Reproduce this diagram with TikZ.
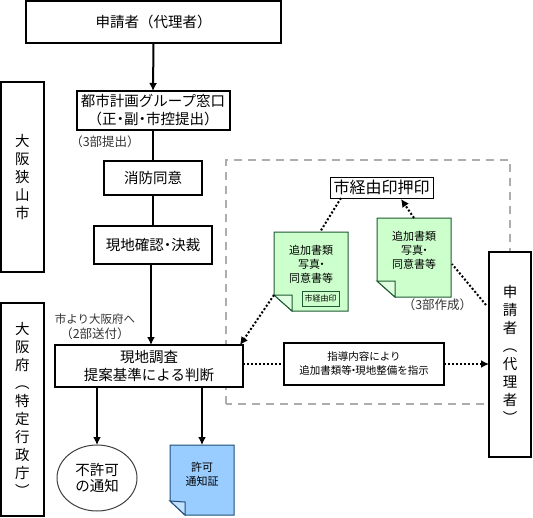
\documentclass[tikz,border=0pt]{standalone}
\usepackage{fontspec}
\setmainfont{Noto Sans CJK JP}
\usetikzlibrary{arrows.meta,calc,shapes.geometric}
\newcommand{\nk}{\kern-3.5pt・\kern-3.5pt}
\newcommand{\fsz}[2]{\fontsize{#1}{#2}\selectfont}
\definecolor{sheetgreen}{HTML}{CCFFCC}
\definecolor{sheetblue}{HTML}{99CCFF}
\definecolor{edgegreen}{HTML}{1E5A32}
\definecolor{edgeblue}{HTML}{1F4E79}
\tikzset{
  flowbox/.style={draw=black,fill=white,line width=2pt,inner sep=0pt,outer sep=0pt,align=center,font=\fsz{14.5}{18}},
  vbox/.style={flowbox,text width=20pt},
  plainlabel/.style={inner sep=0pt,align=center,font=\fsz{11.5}{15},text=black!80},
  parenlabel/.style={plainlabel,font=\fsz{12.5}{15}},
  sheet/.style={inner sep=0pt,outer sep=0pt,align=center,font=\fsz{11}{14}},
  flow/.style={line width=2pt,-{Latex[length=8pt,width=8pt]}},
  link/.style={line width=2pt},
  dots/.style={line width=2pt,dash pattern=on 2pt off 2pt,black},
  dotsarrow/.style={dots,-{Latex[length=8pt,width=8pt]}},
}
\begin{document}
\begin{tikzpicture}[x=1pt,y=-1pt]
\useasboundingbox (0,0) rectangle (533,517);
\fill[white] (0,0) rectangle (533,517);
% dashed frame
\draw[black!32,line width=1.5pt,dash pattern=on 8pt off 6pt] (226,404) -- (226,160) -- (510,160) -- (510,404) -- cycle;

% main column
\node[flowbox,minimum width=255pt,minimum height=42pt] (top) at (153.5,22) {申請者（代理者）};
\node[vbox,minimum width=43pt,minimum height=190pt] (city) at (22.5,177) {大\\阪\\狭\\山\\市};
\node[flowbox,minimum width=153pt,minimum height=39pt] (window) at (153,110.5) {都市計画グループ窓口\\（正\nk 副\nk 市控提出）};
\node[flowbox,minimum width=98pt,minimum height=34pt] (fire) at (153,178) {消防同意};
\node[flowbox,minimum width=118pt,minimum height=38pt] (check) at (153,245) {現地確認\nk 決裁};
\node[vbox,minimum width=43pt,minimum height=213pt] (pref) at (22.5,409.5) {大\\阪\\府\\︵\\特\\定\\行\\政\\庁\\︶};
\node[flowbox,minimum width=188pt,minimum height=42pt] (survey) at (149,366) {現地調査\\提案基準による判断};
\node[draw=black!75,fill=white,line width=1pt,ellipse,inner sep=0pt,outer sep=0pt,minimum width=80pt,minimum height=66pt,align=center,font=\fsz{14.5}{16}] (deny) at (97,478) {不許可\\の通知};

% blue sheet
\node[sheet,minimum width=64pt,minimum height=70pt] (permit) at (202,480) {};
\draw[fill=sheetblue,draw=edgeblue,line width=1pt] (permit.north west) -- (permit.north east) -- (permit.south east) -- (185,515) -- (170,501) -- cycle;
\draw[fill=sheetblue!60,draw=edgeblue,line width=1pt] (170,501) -- (185,502) -- (185,515) -- cycle;
\node[sheet] (permittext) at (202,474.5) {許可\\通知証};

% green sheets
\node[sheet,minimum width=74pt,minimum height=79pt] (sheetA) at (311,271.5) {};
\draw[fill=sheetgreen,draw=edgegreen,line width=1pt] (sheetA.north west) -- (sheetA.north east) -- (sheetA.south east) -- (292,311) -- (274,295) -- cycle;
\draw[fill=sheetgreen!60,draw=edgegreen,line width=1pt] (274,295) -- (292,295) -- (292,311) -- cycle;
\node[sheet] (textA) at (311,264.5) {追加書類\\写真\nk \\同意書等};
\node[draw=edgegreen,line width=1pt,inner sep=0pt,outer sep=0pt,minimum width=37pt,minimum height=15pt,font=\fsz{8}{9}] (sealsmall) at (320.5,298.5) {市経由印};

\node[sheet,minimum width=74pt,minimum height=79pt] (sheetB) at (414,257.5) {};
\draw[fill=sheetgreen,draw=edgegreen,line width=1pt] (sheetB.north west) -- (sheetB.north east) -- (sheetB.south east) -- (395,297) -- (377,281) -- cycle;
\draw[fill=sheetgreen!60,draw=edgegreen,line width=1pt] (377,281) -- (395,281) -- (395,297) -- cycle;
\node[sheet] (textB) at (414,250.5) {追加書類\\写真\nk \\同意書等};

% seal and others
\node[draw=black,fill=white,line width=1pt,inner sep=0pt,outer sep=0pt,minimum width=103pt,minimum height=21pt,font=\fsz{16}{18}] (seal) at (381.5,187.5) {市経由印押印};
\node[flowbox,font=\fsz{10.5}{14},minimum width=160pt,minimum height=42pt] (guide) at (364,364) {指導内容により\\追加書類等\nk 現地整備を指示};
\node[vbox,minimum width=42pt,minimum height=205pt] (applicant) at (510,354.5) {申\\請\\者\\︵\\代\\理\\者\\︶};

% labels
\node[parenlabel] (l3) at (105,142) {（3部提出）};
\node[plainlabel] (l2a) at (95,319) {市より大阪府へ};
\node[parenlabel] (l2b) at (95,334) {（2部送付）};
\node[parenlabel] (l3b) at (437.5,305) {（3部作成）};

% connectors
\coordinate (trunk) at (151,300);
\draw[flow] (top.south) -- (window.north);
\draw[link] (window.south) -- (fire.north);
\draw[link] (fire.south) -- (check.north);
\draw[flow] (check.south -| trunk) -- (survey.north -| trunk);
\draw[flow] (survey.south -| deny.north) -- (deny.north);
\draw[flow] (survey.south -| permit.north) -- (permit.north);

\coordinate (aTop) at (320,232);
\coordinate (aFold) at (274,295);
\coordinate (bTop) at (414,218);
\coordinate (bSide) at (452,264);
\coordinate (appIn) at (486,305);
\coordinate (sealOut) at (401,199);
\coordinate (sealIn) at (341,198);
\coordinate (survC) at (240,345);
\draw[dotsarrow] (bTop) -- (sealOut);
\draw[dots] (sealIn) -- (aTop);
\draw[dotsarrow] (aFold) -- (survC);
\draw[dots] (appIn) -- (bSide);
\draw[dots] (survey.east |- guide.west) -- (guide.west);
\draw[dotsarrow] (guide.east) -- (applicant.west |- guide.east);
\end{tikzpicture}
\end{document}
